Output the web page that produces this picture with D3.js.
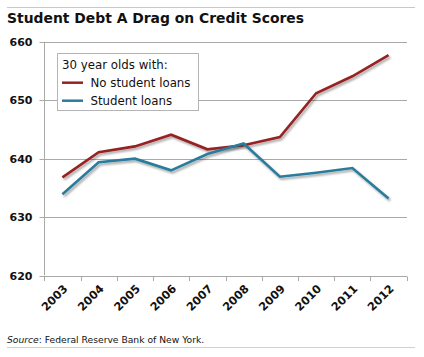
<!DOCTYPE html>
<html><head><meta charset="utf-8">
<script src="https://cdn.jsdelivr.net/npm/d3@7"></script>
<style>
body{margin:0;background:#fff;}
svg{display:block;}
</style></head>
<body>
<svg id="c" width="424" height="357"></svg>
<script>
const years = ["2003","2004","2005","2006","2007","2008","2009","2010","2011","2012"];
const noLoans = [636.8, 641.1, 642.1, 644.1, 641.6, 642.3, 643.7, 651.2, 654.1, 657.7];
const withLoans = [633.9, 639.4, 640.0, 638.0, 640.8, 642.6, 636.9, 637.6, 638.4, 633.2];
const yTicks = [620, 630, 640, 650, 660];
const seriesNames = ["No student loans", "Student loans"];
const seriesColors = ["#962222", "#2b7b9c"];
const title = "Student Debt A Drag on Credit Scores";
const legendTitle = "30 year olds with:";

const svg = d3.select("#c");
const font = "'DejaVu Sans', Verdana, sans-serif";

const defs = svg.append("defs");
const f = defs.append("filter").attr("id","sh").attr("x","-10%").attr("y","-10%").attr("width","130%").attr("height","140%");
f.append("feDropShadow").attr("dx",1.5).attr("dy",2).attr("stdDeviation",1).attr("flood-color","#000").attr("flood-opacity",0.35);

// rules
svg.append("line").attr("x1",7).attr("x2",415).attr("y1",7.5).attr("y2",7.5).attr("stroke","#c8c8c8").attr("stroke-width",1);
svg.append("line").attr("x1",7).attr("x2",415).attr("y1",347.5).attr("y2",347.5).attr("stroke","#d0d0d0").attr("stroke-width",1);

svg.append("text").attr("x",7).attr("y",22.5).attr("font-family",font).attr("font-weight","bold")
  .attr("font-size",13.9).attr("fill","#111").text(title);

const x = d3.scaleBand().domain(years).range([44.3, 406.7]);
const y = d3.scaleLinear().domain([620, 660]).range([275.5, 41.8]);

// gridlines
svg.append("g").selectAll("line").data(yTicks).join("line")
  .attr("x1",44).attr("x2",407).attr("y1",d=>Math.round(y(d))+0.5).attr("y2",d=>Math.round(y(d))+0.5)
  .attr("stroke","#a9a9a9").attr("stroke-width",1);

// y axis
const ya = svg.append("g").attr("transform","translate(44.5,0)")
  .call(d3.axisLeft(y).tickValues(yTicks).tickSize(5).tickPadding(7).tickFormat(d3.format("d")));
ya.select(".domain").attr("stroke","#a9a9a9").attr("d","M0,"+y(660)+"V"+y(620));
ya.selectAll(".tick line").attr("stroke","#a9a9a9");
ya.selectAll(".tick text").attr("font-family",font).attr("font-weight","bold").attr("font-size",11).attr("fill","#111").attr("dy","0.36em");
ya.selectAll(".tick").attr("transform",d=>"translate(0,"+(Math.round(y(d))+0.5)+")");

// x axis
const xa = svg.append("g").attr("transform","translate(0,"+(Math.round(y(620))+0.5)+")")
  .call(d3.axisBottom(x).tickSize(0).tickFormat(d=>d));
xa.select(".domain").remove();
xa.selectAll(".tick text").attr("font-family",font).attr("font-weight","bold").attr("font-size",11.3).attr("fill","#111")
  .attr("text-anchor","end").attr("dy",0).attr("y",0)
  .attr("transform","translate(6,13) rotate(-45)");
// band ticks
const edges = years.map(d=>x(d)).concat([x.range()[1]]);
svg.append("g").selectAll("line").data(edges).join("line")
  .attr("x1",d=>Math.round(d)+0.5).attr("x2",d=>Math.round(d)+0.5)
  .attr("y1",Math.round(y(620))+0.5).attr("y2",Math.round(y(620))+5)
  .attr("stroke","#a9a9a9");

// lines
const line = d3.line().x((d,i)=>x(years[i])+x.bandwidth()/2).y(d=>y(d));
[noLoans, withLoans].forEach((s,i)=>{
  svg.append("path").datum(s).attr("d",line).attr("fill","none")
    .attr("stroke",seriesColors[i]).attr("stroke-width",2.6).attr("stroke-linejoin","miter")
    .attr("filter","url(#sh)");
});

// legend
const lg = svg.append("g");
lg.append("rect").attr("x",57.5).attr("y",53.5).attr("width",141).attr("height",57)
  .attr("fill","#fff").attr("stroke","#b5b5b5").attr("stroke-width",1);
lg.append("text").attr("x",62).attr("y",69).attr("font-family",font).attr("font-size",11.8).attr("fill","#111").text(legendTitle);
seriesNames.forEach((n,i)=>{
  const yy = 82.7 + i*18;
  lg.append("line").attr("x1",62).attr("x2",83).attr("y1",yy).attr("y2",yy).attr("stroke",seriesColors[i]).attr("stroke-width",2.5);
  lg.append("text").attr("x",90.5).attr("y",yy+4.2).attr("font-family",font).attr("font-size",11.8).attr("fill","#111").text(n);
});

// source
const src = svg.append("text").attr("x",7).attr("y",343).attr("font-family",font).attr("font-size",9.2).attr("fill","#111");
src.append("tspan").attr("font-style","italic").text("Source");
src.append("tspan").text(": Federal Reserve Bank of New York.");
</script>
</body></html>
